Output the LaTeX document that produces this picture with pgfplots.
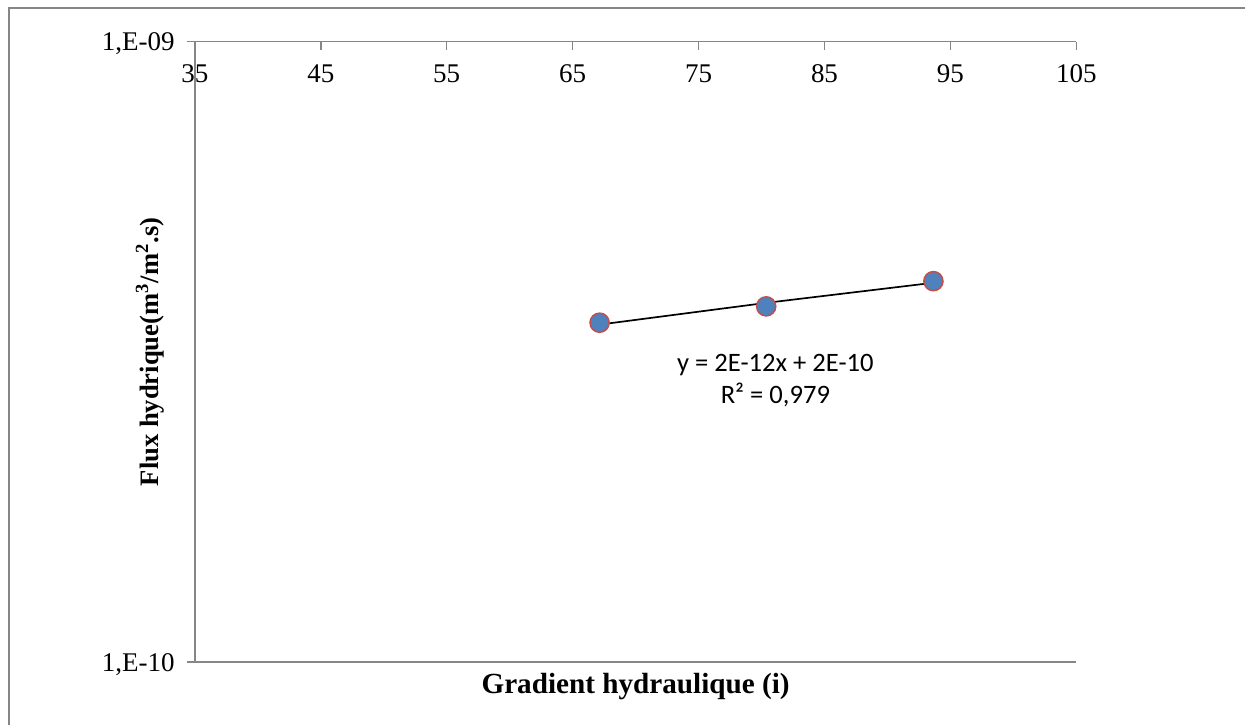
\documentclass[border=0pt]{standalone}
\usepackage{fontspec}
\setmainfont{Liberation Serif}
\newfontfamily\calibri{Carlito}
\usepackage{pgfplots}
\pgfplotsset{compat=1.18}
\definecolor{axisgray}{HTML}{868686}
\definecolor{mblue}{HTML}{4F81BD}
\definecolor{mred}{HTML}{C0504D}
\begin{document}
\begin{tikzpicture}
\path (0,0) rectangle (623pt,362.5pt);
\draw[axisgray, line width=0.75pt] (4.5pt,0) -- (4.5pt,358.5pt) -- (623pt,358.5pt);
\begin{axis}[
  at={(97.5pt,31.25pt)}, anchor=south west,
  scale only axis, width=441pt, height=310.5pt,
  xmin=35, xmax=105, ymin=1e-10, ymax=1e-9,
  ymode=log,
  axis x line*=top, axis y line*=left,
  axis line style={draw=axisgray, line width=0.75pt, -},
  tick align=inside,
  major tick length=4pt,
  every tick/.style={axisgray, line width=0.75pt},
  y tick style={xshift=-4pt},
  xtick={35,45,55,65,75,85,95,105},
  ytick={1e-10,1e-9},
  yticklabels={{1,E-10},{1,E-09}},
  yminorticks=false, xminorticks=false,
  /pgf/number format/assume math mode=true,
  tick label style={font=\fontsize{13.5}{16}\selectfont, text=black},
  xticklabel style={anchor=base, inner sep=0pt, yshift=-20.5pt},
  yticklabel style={anchor=base east, inner sep=0pt, xshift=-10pt, yshift=-4.5pt},
  xlabel={Gradient hydraulique (i)},
  ylabel={Flux hydrique(m\textsuperscript{3}/m\textsuperscript{2}.s)},
  xlabel style={font=\fontsize{14.6}{17}\selectfont\bfseries, at={(axis description cs:0.5,-0.040)}, anchor=center},
  ylabel style={font=\fontsize{13.3}{16}\selectfont\bfseries, at={(axis description cs:-0.051,0.5)}, anchor=center, rotate=0},
  clip=false,
]
\addplot[only marks, mark=*, mark size=4.8pt, mark options={fill=mblue, draw=mred, line width=0.75pt}]
  coordinates {(67.14,3.524e-10) (80.37,3.744e-10) (93.65,4.111e-10)};
\addplot[black, line width=0.85pt, sharp plot]
  coordinates {(67.14,3.4995e-10) (80.37,3.793e-10) (93.65,4.0865e-10)};
\draw[axisgray, line width=0.75pt] (rel axis cs:0,0) -- (rel axis cs:1,0);
\node[font=\calibri\fontsize{13.3}{16}\selectfont, align=center] at (axis cs:81.1,2.84e-10) {y = 2E-12x + 2E-10\\R² = 0,979};
\end{axis}
\end{tikzpicture}
\end{document}
